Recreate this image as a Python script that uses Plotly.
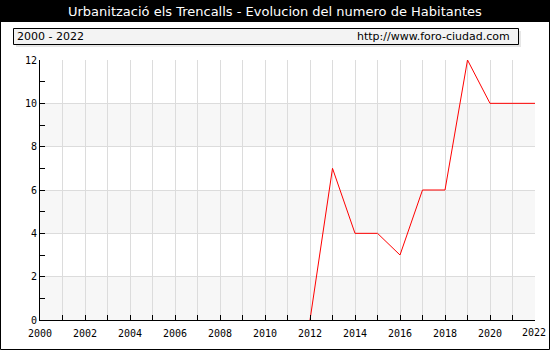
import plotly.graph_objects as go

years = [2012, 2013, 2014, 2015, 2016, 2017, 2018, 2019, 2020, 2021, 2022]
habitantes = [0, 7, 4, 4, 3, 6, 6, 12, 10, 10, 10]
title_text = "Urbanització els Trencalls - Evolucion del numero de Habitantes"
period_text = "2000 - 2022"
url_text = "http://www.foro-ciudad.com"
x_labels = [str(y) for y in range(2000, 2021, 2)]
last_label = "2022"

W, H = 550, 350
L, R, T, B = 40, 15, 60, 30
pw, ph = W - L - R, H - T - B

def px(x):
    return (x - L) / pw

def py(y):
    return (H - B - y) / ph

fig = go.Figure()
fig.add_trace(go.Scatter(x=years, y=habitantes, mode="lines",
                         line=dict(color="#ff0000", width=1), hoverinfo="skip"))

shapes = []
for y0 in [0, 4, 8]:
    shapes.append(dict(type="rect", xref="paper", yref="y", x0=0, x1=1, y0=y0, y1=y0 + 2,
                       fillcolor="#f7f7f7", line=dict(width=0), layer="below"))
shapes.append(dict(type="rect", xref="paper", yref="paper", x0=px(0), x1=px(W), y0=py(22), y1=py(0),
                   fillcolor="#000000", line=dict(width=0), layer="above"))
shapes.append(dict(type="rect", xref="paper", yref="paper", x0=px(16), x1=px(521), y0=py(47), y1=py(31),
                   fillcolor="#e6e6e6", line=dict(width=0), layer="above"))
shapes.append(dict(type="rect", xref="paper", yref="paper", x0=px(13.5), x1=px(518.5), y0=py(44.5), y1=py(28.5),
                   fillcolor="#f3f3f3", line=dict(width=1, color="#000000"), layer="above"))
shapes.append(dict(type="rect", xref="paper", yref="paper", x0=px(0.5), x1=px(W - 0.5), y0=py(H - 0.5), y1=py(0.5),
                   fillcolor="rgba(0,0,0,0)", line=dict(width=1, color="#000000"), layer="above"))

tick_font = dict(family="DejaVu Sans Mono", size=10, color="#000000")

annotations = [
    dict(text=title_text, xref="paper", yref="paper", x=px(W / 2), y=py(11), showarrow=False,
         xanchor="center", yanchor="middle", font=dict(family="DejaVu Sans", size=13, color="#ffffff")),
    dict(text=period_text, xref="paper", yref="paper", x=px(15), y=py(36.5), showarrow=False,
         xanchor="left", yanchor="middle", font=dict(family="DejaVu Sans", size=11, color="#000000")),
    dict(text=url_text, xref="paper", yref="paper", x=px(512), y=py(36.5), showarrow=False,
         xanchor="right", yanchor="middle", font=dict(family="DejaVu Sans", size=11, color="#000000")),
    dict(text=last_label, xref="paper", yref="paper", x=px(547), y=py(332.5), showarrow=False,
         xanchor="right", yanchor="middle", borderpad=0, font=tick_font),
]

fig.update_layout(
    width=W, height=H,
    margin=dict(l=L, r=R, t=T, b=B),
    paper_bgcolor="#ffffff", plot_bgcolor="#ffffff",
    showlegend=False,
    shapes=shapes, annotations=annotations,
    xaxis=dict(range=[2000, 2022], tickmode="array", tickvals=[int(s) for s in x_labels], ticktext=x_labels,
               showgrid=True, gridcolor="#dcdcdc", gridwidth=1,
               ticks="inside", ticklen=5, tickcolor="#000000", ticklabelstandoff=4,
               showline=True, linecolor="#000000", linewidth=1,
               zeroline=False, tickfont=tick_font, fixedrange=True,
               minor=dict(dtick=1, tick0=2000, showgrid=True, gridcolor="#dcdcdc",
                          ticks="inside", ticklen=5, tickcolor="#000000")),
    yaxis=dict(range=[0, 12], tickmode="linear", tick0=0, dtick=2,
               showgrid=True, gridcolor="#dcdcdc", gridwidth=1,
               ticks="inside", ticklen=5, tickcolor="#000000",
               showline=True, linecolor="#000000", linewidth=1,
               zeroline=False, tickfont=tick_font, fixedrange=True,
               minor=dict(dtick=1, tick0=0, showgrid=False,
                          ticks="inside", ticklen=5, tickcolor="#000000")),
)

fig.write_html("out.html")
